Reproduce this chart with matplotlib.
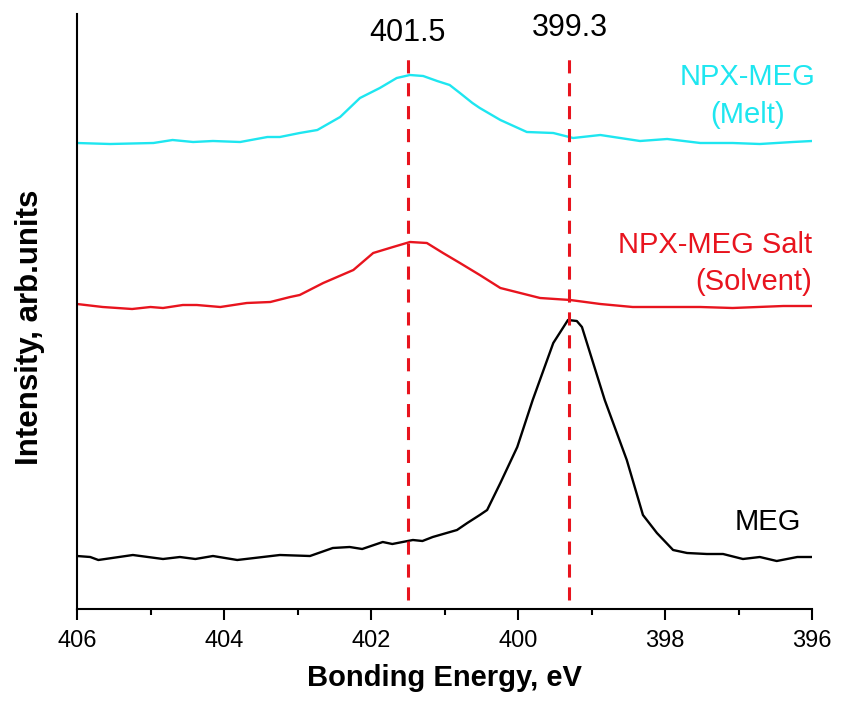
import matplotlib.pyplot as plt
from matplotlib.ticker import MultipleLocator

plt.rcParams['font.family'] = ['Liberation Sans', 'DejaVu Sans']

# NPX-MEG (Melt)
melt_e = [406.0, 405.55, 404.96, 404.7, 404.42, 404.15, 403.78, 403.41, 403.24, 402.97,
          402.73, 402.42, 402.15, 401.88, 401.65, 401.47, 401.29, 401.1, 400.93, 400.79,
          400.62, 400.52, 400.24, 399.88, 399.52, 399.25, 398.88, 398.34, 397.97, 397.52,
          397.08, 396.71, 396.26, 396.0]
melt_i = [466, 465, 466, 469, 467, 468, 467, 472, 472, 476,
          479, 492, 511, 521, 531, 534, 533, 528, 524, 516,
          506, 501, 489, 477, 476, 471, 474, 468, 470, 466,
          466, 465, 467, 468]

# NPX-MEG Salt (Solvent)
salt_e = [406.0, 405.65, 405.25, 405.0, 404.83, 404.56, 404.37, 404.05, 403.69, 403.37,
          403.1, 402.97, 402.65, 402.24, 401.97, 401.7, 401.47, 401.24, 401.02, 400.79,
          400.52, 400.24, 399.7, 399.29, 398.88, 398.44, 397.97, 397.52, 397.08, 396.39,
          396.0]
salt_i = [305, 302, 300, 302, 301, 304, 304, 302, 306, 307,
          312, 314, 326, 339, 356, 362, 367, 366, 356, 346,
          334, 321, 311, 309, 305, 302, 302, 302, 301, 303,
          303]

# MEG
meg_e = [406.0, 405.82, 405.71, 405.24, 404.83, 404.6, 404.39, 404.15, 403.82, 403.24,
         402.83, 402.52, 402.29, 402.12, 401.84, 401.71, 401.43, 401.3, 401.16, 400.83,
         400.69, 400.52, 400.42, 400.24, 400.01, 399.8, 399.52, 399.32, 399.2, 399.13,
         398.82, 398.52, 398.3, 398.11, 397.89, 397.7, 397.43, 397.21, 396.94, 396.71,
         396.48, 396.2, 396.0]
meg_i = [53, 52, 49, 54, 50, 52, 50, 53, 49, 54,
         53, 61, 62, 60, 67, 65, 69, 68, 72, 79,
         86, 94, 99, 126, 162, 209, 266, 289, 288, 282,
         209, 149, 94, 76, 59, 56, 55, 55, 50, 52,
         48, 52, 52]

peaks = [401.5, 399.3]
peak_labels = ["401.5", "399.3"]

fig = plt.figure(figsize=(8.58, 7.01), dpi=100)
ax = fig.add_axes([77 / 858, 92 / 701, 735 / 858, 595 / 701])

cyan = "#1ee6f0"
red = "#e8141e"

ax.plot(melt_e, melt_i, color=cyan, lw=1.7)
ax.plot(salt_e, salt_i, color=red, lw=1.7)
ax.plot(meg_e, meg_i, color="black", lw=1.7)

for p in peaks:
    ax.axvline(p, ymin=9 / 595, ymax=559 / 595, color=red, lw=2.2, dashes=(4.3, 3.2))

ax.text(peaks[0], 576, peak_labels[0], fontsize=22, ha="center", va="center")
ax.text(peaks[1], 581, peak_labels[1], fontsize=22, ha="center", va="center")

ax.text(396.88, 532, "NPX-MEG", color=cyan, fontsize=21, ha="center", va="center")
ax.text(396.88, 494, "(Melt)", color=cyan, fontsize=21, ha="center", va="center")
ax.text(396.0, 364, "NPX-MEG Salt", color=red, fontsize=21, ha="right", va="center")
ax.text(396.0, 327, "(Solvent)", color=red, fontsize=21, ha="right", va="center")
ax.text(396.6, 87, "MEG", color="black", fontsize=21, ha="center", va="center")

ax.set_xlim(406, 396)
ax.set_ylim(0, 595)
ax.xaxis.set_major_locator(MultipleLocator(2))
ax.xaxis.set_minor_locator(MultipleLocator(1))
ax.tick_params(axis="x", which="major", direction="out", length=8, width=1.5,
               labelsize=17, pad=7)
ax.tick_params(axis="x", which="minor", direction="out", length=4.5, width=1.5)
ax.set_yticks([])

for s in ["top", "right"]:
    ax.spines[s].set_visible(False)
for s in ["left", "bottom"]:
    ax.spines[s].set_linewidth(1.5)

ax.set_xlabel("Bonding Energy, eV", fontsize=21, fontweight="bold", labelpad=9)
ax.set_ylabel("Intensity, arb.units", fontsize=22.5, fontweight="bold", labelpad=23)
ax.yaxis.label.set_y(0.474)

fig.savefig("out.png", dpi=100)
